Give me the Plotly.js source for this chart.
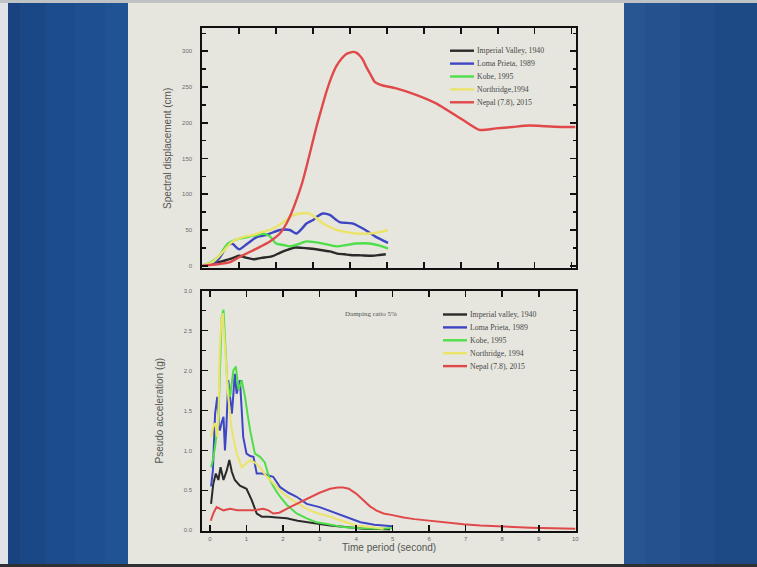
<!DOCTYPE html>
<html>
<head>
<meta charset="utf-8">
<script src="https://cdn.plot.ly/plotly-3.0.1.min.js"></script>
<style>html,body{margin:0;padding:0;background:#e6e6de;}#chart{width:757px;height:567px;}</style>
</head>
<body>
<div id="chart"></div>
<script>
// ---------- data ----------
const seriesNamesTop = ["Imperial Valley, 1940", "Loma Prieta, 1989", "Kobe, 1995", "Northridge,1994", "Nepal (7.8), 2015"];
const seriesNamesBottom = ["Imperial valley, 1940", "Loma Prieta, 1989", "Kobe, 1995", "Northridge, 1994", "Nepal (7.8), 2015"];
const seriesColors = ["#2a2a2a", "#3e46c4", "#4ede4a", "#ebe36a", "#e0484a"];

// Spectral displacement (cm) vs period (s)
const sdImperialT = [0, 0.3, 0.66, 0.89, 1.0, 1.2, 1.39, 1.6, 1.88, 2.1, 2.3, 2.51, 2.7, 2.9, 3.2, 3.45, 3.65, 3.85, 4.0, 4.3, 4.6, 4.8, 4.97];
const sdImperialV = [0, 3, 8, 12, 14, 11, 9, 11, 13, 18, 22, 25.5, 25, 24, 22, 20, 17, 16, 15, 14.5, 14, 15, 16];
const sdLomaT = [0, 0.3, 0.48, 0.66, 0.8, 1.0, 1.2, 1.47, 1.65, 1.83, 2.1, 2.37, 2.55, 2.7, 2.82, 3.0, 3.09, 3.27, 3.45, 3.72, 4.08, 4.35, 4.71, 5.03];
const sdLomaV = [0, 3, 12, 27, 31, 23, 30, 40, 42, 45, 50, 50, 45, 52, 59, 64, 68, 73, 71, 61, 59, 52, 40, 32];
const sdKobeT = [0, 0.25, 0.48, 0.6, 0.7, 0.85, 1.0, 1.29, 1.5, 1.65, 1.83, 2.0, 2.2, 2.37, 2.6, 2.82, 3.05, 3.27, 3.63, 3.9, 4.17, 4.53, 4.8, 5.03];
const sdKobeV = [0, 5, 15, 25, 31, 35, 38, 41, 43, 45, 41, 31, 29, 27, 30, 34, 33, 31, 27, 29, 31, 31, 28, 24];
const sdNorthT = [0, 0.3, 0.57, 0.8, 1.16, 1.38, 1.6, 1.83, 2.05, 2.28, 2.45, 2.64, 2.91, 3.1, 3.27, 3.63, 3.9, 4.17, 4.53, 4.8, 5.03];
const sdNorthV = [0, 6, 20, 33, 41, 43, 47, 50, 56, 64, 70, 73, 73, 66, 59, 50, 47, 45, 45, 47, 50];
const sdNepalT = [0, 0.4, 0.75, 1.0, 1.47, 1.83, 2.1, 2.28, 2.4, 2.55, 2.7, 2.82, 2.95, 3.09, 3.22, 3.36, 3.5, 3.63, 3.78, 3.9, 4.0, 4.08, 4.17, 4.26, 4.35, 4.44, 4.55, 4.67, 4.78, 4.89, 5.25, 5.79, 6.33, 7.05, 7.5, 7.95, 8.4, 8.86, 9.3, 9.76, 10.1];
const sdNepalV = [0, 2, 5, 12, 24, 34, 45, 59, 72, 92, 115, 138, 165, 194, 218, 243, 264, 279, 290, 296, 298, 299, 298, 294, 288, 278, 268, 257, 254, 252, 248, 239, 227, 204, 190, 192, 194, 196, 195, 194, 194];

// Pseudo acceleration (g) vs period (s)
const paImperialT = [0.03, 0.09, 0.16, 0.23, 0.29, 0.37, 0.46, 0.53, 0.6, 0.68, 0.82, 1.0, 1.14, 1.28, 1.42, 1.6, 1.83, 2.1, 2.4, 2.65, 3.0, 3.29, 3.7, 4.2, 4.6, 4.93];
const paImperialV = [0.33, 0.58, 0.71, 0.63, 0.79, 0.63, 0.75, 0.88, 0.73, 0.63, 0.56, 0.52, 0.38, 0.21, 0.17, 0.17, 0.16, 0.15, 0.12, 0.1, 0.08, 0.06, 0.04, 0.02, 0.015, 0.01];
const paLomaT = [0.03, 0.08, 0.14, 0.2, 0.24, 0.27, 0.32, 0.37, 0.41, 0.45, 0.5, 0.55, 0.6, 0.64, 0.68, 0.73, 0.78, 0.82, 0.87, 0.91, 1.0, 1.1, 1.19, 1.28, 1.42, 1.6, 1.73, 1.92, 2.15, 2.37, 2.65, 3.0, 3.3, 3.57, 3.8, 4.12, 4.5, 5.0];
const paLomaV = [0.55, 0.75, 1.46, 1.67, 1.3, 1.25, 1.35, 1.42, 1.0, 1.3, 1.88, 1.7, 1.46, 1.7, 1.96, 1.71, 1.8, 1.88, 1.5, 1.17, 0.96, 0.93, 0.92, 0.71, 0.71, 0.69, 0.67, 0.54, 0.47, 0.42, 0.33, 0.29, 0.24, 0.19, 0.15, 0.1, 0.07, 0.05];
const paKobeT = [0.03, 0.09, 0.14, 0.23, 0.28, 0.32, 0.37, 0.41, 0.47, 0.55, 0.64, 0.71, 0.78, 0.87, 0.96, 1.03, 1.1, 1.23, 1.37, 1.5, 1.64, 1.8, 1.92, 2.1, 2.37, 2.65, 2.92, 3.2, 3.65, 4.0, 4.38, 4.7, 5.0];
const paKobeV = [0.79, 0.9, 1.05, 1.38, 2.1, 2.67, 2.76, 2.38, 1.88, 1.67, 2.0, 2.05, 1.76, 1.88, 1.67, 1.45, 1.25, 0.96, 0.92, 0.85, 0.63, 0.5, 0.42, 0.32, 0.21, 0.15, 0.1, 0.08, 0.04, 0.03, 0.02, 0.02, 0.03];
const paNorthT = [0.03, 0.09, 0.14, 0.2, 0.24, 0.27, 0.31, 0.35, 0.41, 0.5, 0.6, 0.73, 0.87, 1.0, 1.1, 1.25, 1.37, 1.5, 1.64, 1.8, 2.0, 2.25, 2.56, 2.9, 3.29, 3.6, 4.0, 4.4, 4.75];
const paNorthV = [1.17, 1.3, 1.34, 1.17, 1.6, 2.3, 2.6, 2.72, 2.3, 1.67, 1.25, 0.96, 0.79, 0.84, 0.88, 0.84, 0.79, 0.7, 0.63, 0.55, 0.46, 0.38, 0.29, 0.22, 0.17, 0.12, 0.06, 0.04, 0.02];
const paNepalT = [0.02, 0.05, 0.1, 0.18, 0.28, 0.37, 0.55, 0.75, 1.0, 1.2, 1.46, 1.6, 1.73, 1.9, 2.19, 2.45, 2.74, 3.0, 3.29, 3.5, 3.65, 3.8, 4.0, 4.2, 4.38, 4.55, 4.75, 5.0, 5.3, 5.6, 6.0, 6.5, 6.94, 7.4, 7.85, 8.3, 8.77, 9.4, 10.0];
const paNepalV = [0.12, 0.17, 0.22, 0.29, 0.27, 0.25, 0.27, 0.25, 0.25, 0.25, 0.27, 0.25, 0.21, 0.22, 0.29, 0.35, 0.42, 0.47, 0.52, 0.535, 0.535, 0.52, 0.46, 0.38, 0.3, 0.25, 0.21, 0.19, 0.16, 0.14, 0.12, 0.095, 0.075, 0.06, 0.05, 0.04, 0.033, 0.025, 0.02];

const yTitleTop = "Spectral displacement (cm)";
const yTitleBottom = "Pseudo acceleration (g)";
const xTitle = "Time period (second)";
const dampingNote = "Damping ratio 5%";

// ---------- build ----------
const W = 757, H = 567;
const px = v => v / W;
const py = v => 1 - v / H;

const topSeries = [[sdImperialT, sdImperialV], [sdLomaT, sdLomaV], [sdKobeT, sdKobeV], [sdNorthT, sdNorthV], [sdNepalT, sdNepalV]];
const botSeries = [[paImperialT, paImperialV], [paLomaT, paLomaV], [paKobeT, paKobeV], [paNorthT, paNorthV], [paNepalT, paNepalV]];

const traces = [];
topSeries.forEach((s, i) => traces.push({
  x: s[0], y: s[1], type: 'scatter', mode: 'lines', name: seriesNamesTop[i],
  line: {color: seriesColors[i], width: 2.4, shape: 'spline', smoothing: 0.6},
  xaxis: 'x', yaxis: 'y', showlegend: false
}));
botSeries.forEach((s, i) => traces.push({
  x: s[0], y: s[1], type: 'scatter', mode: 'lines', name: seriesNamesBottom[i],
  line: {color: seriesColors[i], width: 2},
  xaxis: 'x2', yaxis: 'y2', showlegend: false
}));

const shapes = [];
const annotations = [];
// slide background: blue side strips
const leftStrips = [[8, 20, '#18437f'], [20, 45, '#1a4886'], [45, 75, '#1c4c8b'], [75, 105, '#1e4f8f'], [105, 128, '#205393']];
const rightStrips = [[624, 645, '#285693'], [645, 680, '#25528f'], [680, 715, '#214e8a'], [715, 757, '#1d4985']];
shapes.push({type: 'rect', xref: 'paper', yref: 'paper', x0: 0, x1: px(8), y0: 0, y1: 1, fillcolor: '#dfe2e6', line: {width: 0}, layer: 'below'});
leftStrips.concat(rightStrips).forEach(s => shapes.push({
  type: 'rect', xref: 'paper', yref: 'paper', x0: px(s[0]), x1: px(s[1]), y0: py(564), y1: py(3),
  fillcolor: s[2], line: {width: 0}, layer: 'below'
}));
shapes.push({type: 'rect', xref: 'paper', yref: 'paper', x0: 0, x1: 1, y0: py(3), y1: 1, fillcolor: '#bfc3c6', line: {width: 0}, layer: 'below'});
shapes.push({type: 'rect', xref: 'paper', yref: 'paper', x0: 0, x1: 1, y0: 0, y1: py(564), fillcolor: '#2e3033', line: {width: 0}, layer: 'below'});

// legends (manual, compact)
function addLegend(names, lineX0, lineX1, textX, rowY0, rowGap) {
  names.forEach((n, i) => {
    const yy = rowY0 + i * rowGap;
    shapes.push({type: 'line', xref: 'paper', yref: 'paper', x0: px(lineX0), x1: px(lineX1), y0: py(yy), y1: py(yy),
      line: {color: seriesColors[i], width: 2.4}});
    annotations.push({xref: 'paper', yref: 'paper', x: px(textX), y: py(yy), xanchor: 'left', yanchor: 'middle',
      text: n, showarrow: false, font: {family: 'Liberation Serif', size: 7.8, color: '#484848'}});
  });
}
addLegend(seriesNamesTop, 450, 474, 475, 50.7, 12.9);
addLegend(seriesNamesBottom, 443, 467, 468, 314.5, 12.9);
annotations.push({xref: 'paper', yref: 'paper', x: px(343), y: py(314), xanchor: 'left', yanchor: 'middle',
  text: dampingNote, showarrow: false, font: {family: 'Liberation Serif', size: 7, color: '#555'}});

const tickFont = {family: 'Liberation Sans', size: 6, color: '#6a6a6a'};
const titleFont = {family: 'Liberation Sans', size: 10, color: '#555'};
const axisCommon = {showline: true, linecolor: '#111', linewidth: 2, mirror: 'allticks', ticks: 'inside',
  tickcolor: '#111', tickwidth: 1.6, ticklen: 6, showgrid: false, zeroline: false, tickfont: tickFont};

const xDomain = [px(202.3), px(576)];
const layout = {
  width: W, height: H, margin: {l: 0, r: 0, t: 0, b: 0},
  paper_bgcolor: '#e6e6de', plot_bgcolor: 'rgba(0,0,0,0)', showlegend: false,
  xaxis: Object.assign({}, axisCommon, {domain: xDomain, anchor: 'y', range: [0, 10.12], dtick: 1, tick0: 0,
    showticklabels: false}),
  yaxis: Object.assign({}, axisCommon, {domain: [py(268.3), py(28.3)], anchor: 'x', range: [-3.6, 332], dtick: 50, tick0: 0,
    minor: {ticks: 'inside', ticklen: 3.5, tickwidth: 1.4, tickcolor: '#111', dtick: 25},
    ticklabelstandoff: 7,
    title: {text: yTitleTop, font: titleFont, standoff: 9}}),
  xaxis2: Object.assign({}, axisCommon, {domain: xDomain, anchor: 'y2', range: [-0.21, 10.02], dtick: 1, tick0: 0,
    ticklabelstandoff: 1,
    title: {text: xTitle, font: titleFont, standoff: 3}}),
  yaxis2: Object.assign({}, axisCommon, {domain: [py(530.7), py(290.7)], anchor: 'x2', range: [-0.005, 3.0], dtick: 0.5, tick0: 0,
    tickformat: '.1f',
    minor: {ticks: 'inside', ticklen: 3.5, tickwidth: 1.4, tickcolor: '#111', dtick: 0.25},
    ticklabelstandoff: 7,
    title: {text: yTitleBottom, font: titleFont, standoff: 18}}),
  shapes: shapes,
  annotations: annotations
};

Plotly.newPlot('chart', traces, layout, {staticPlot: true, displayModeBar: false});
</script>
</body>
</html>
